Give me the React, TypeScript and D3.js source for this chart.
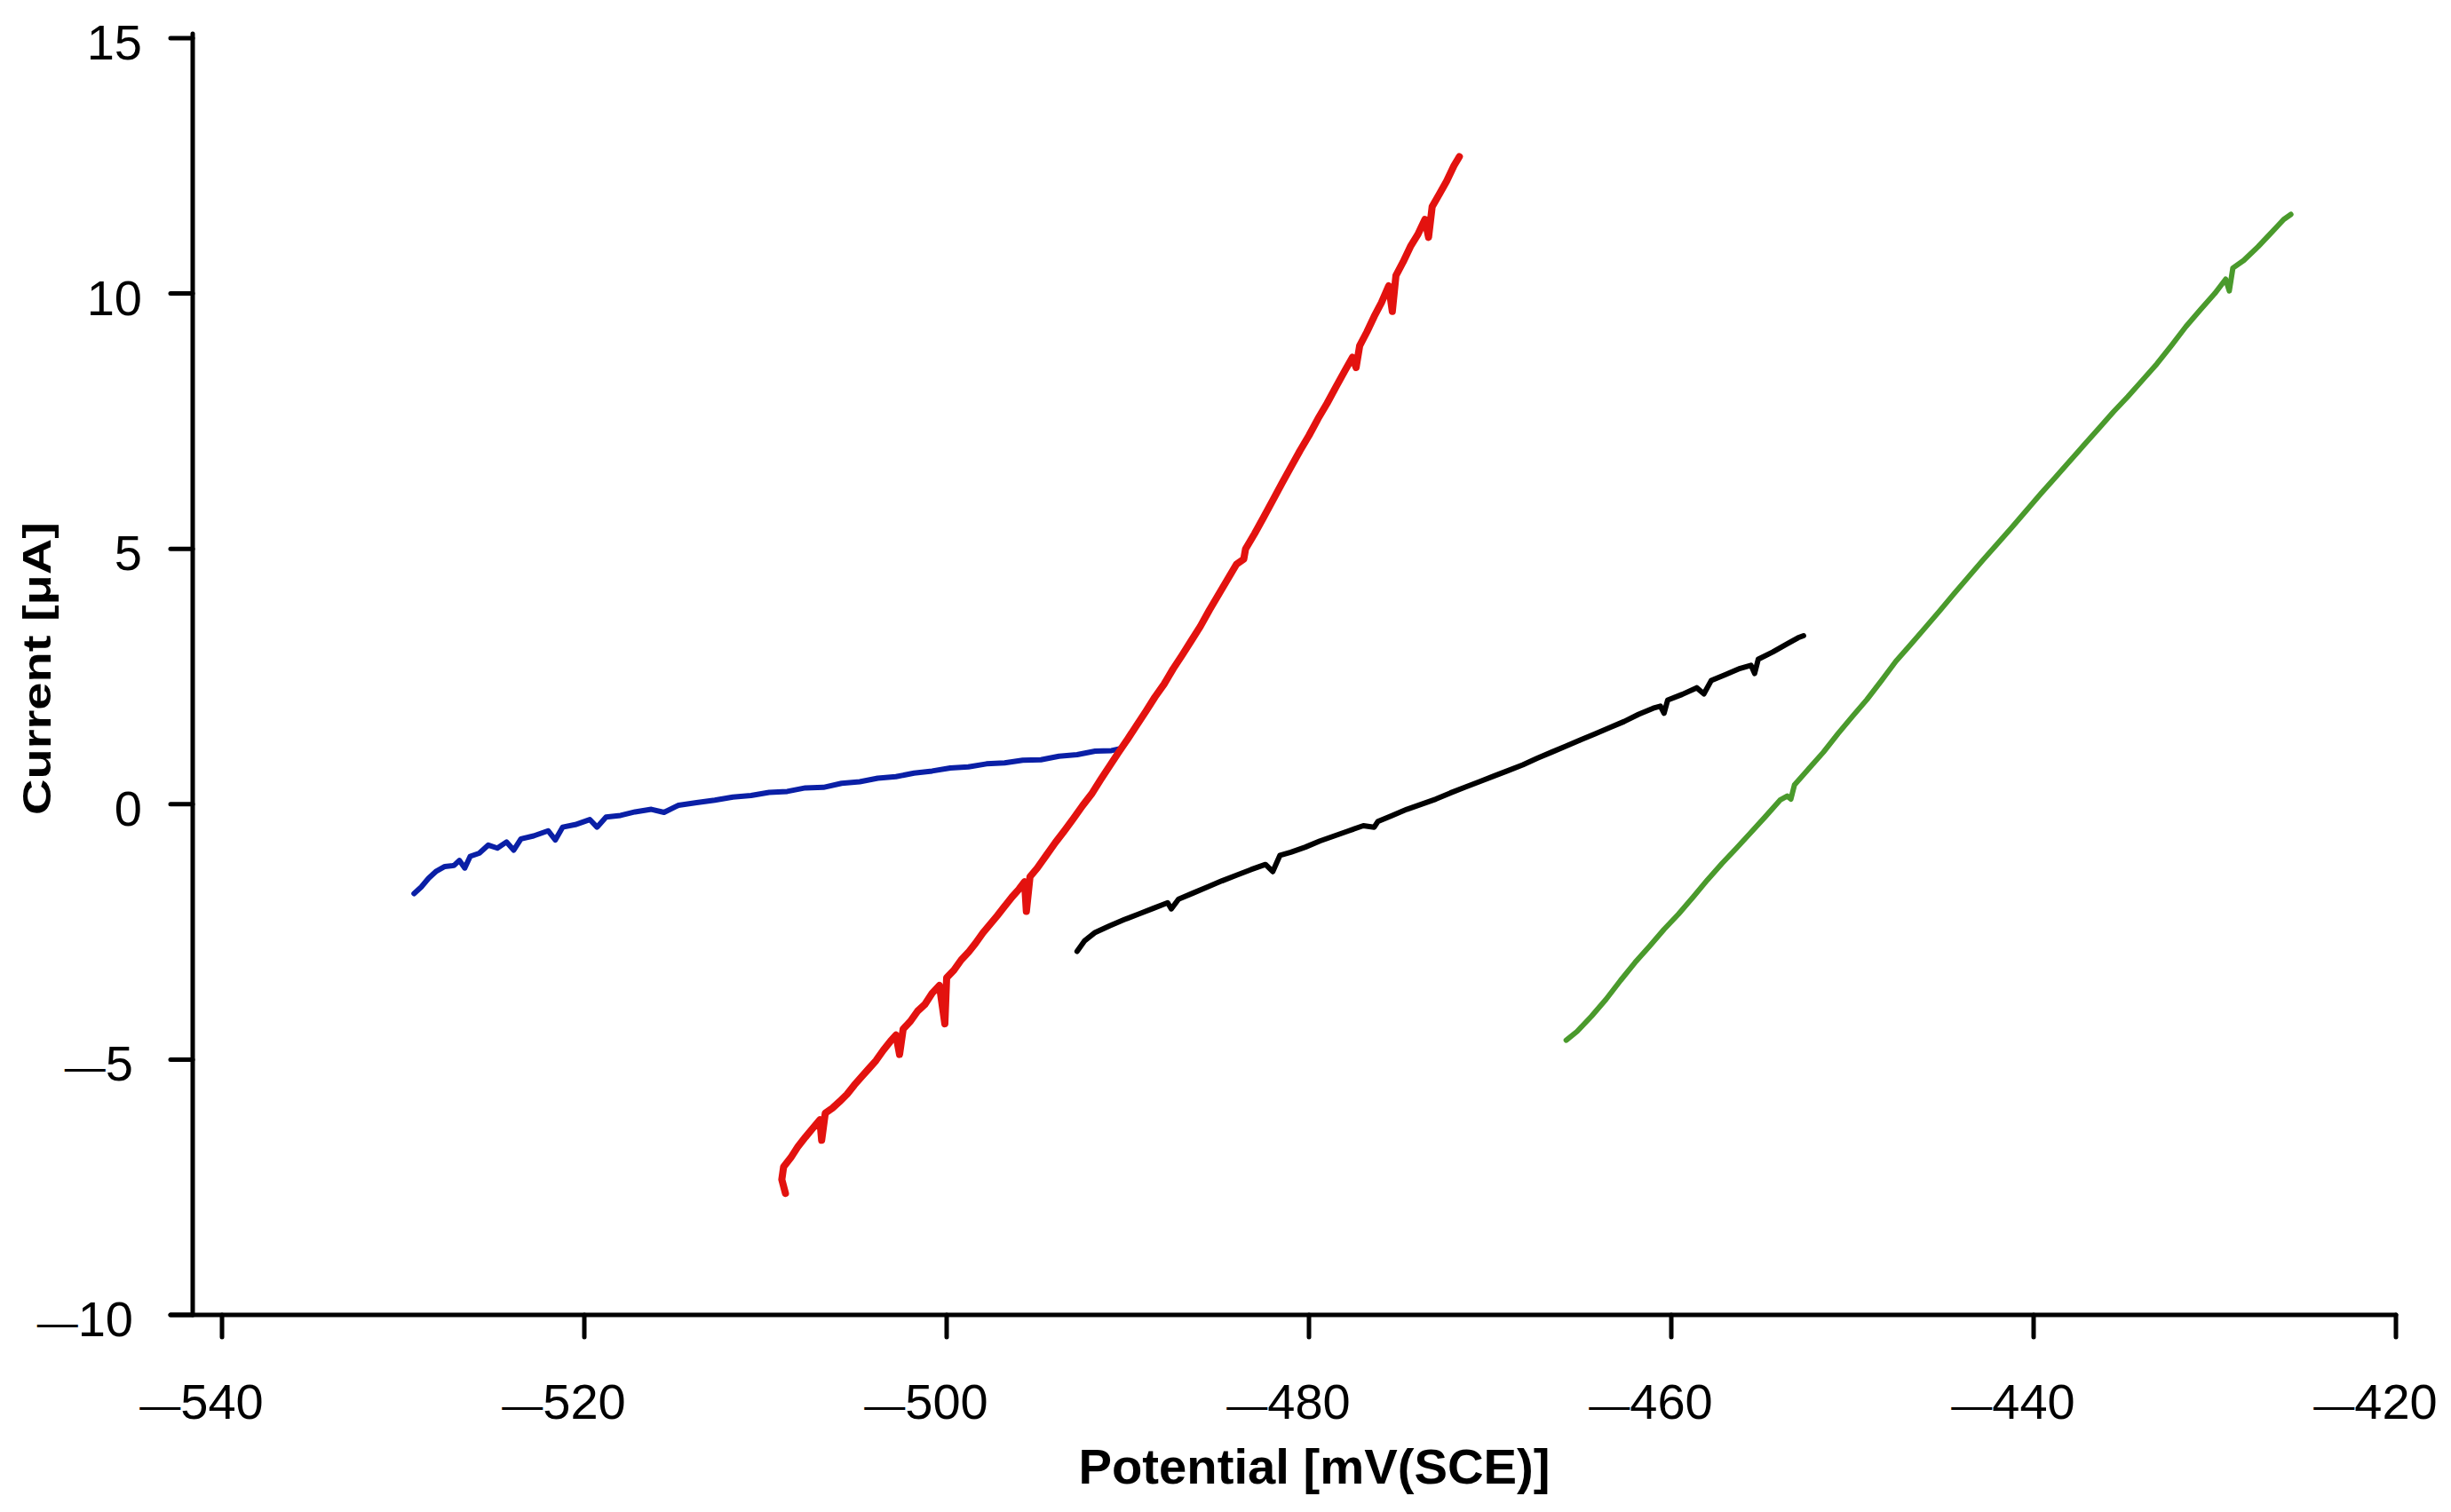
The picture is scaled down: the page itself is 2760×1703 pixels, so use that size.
import React, { useEffect } from "react";
import * as d3 from "d3";

// ---- data (Potential mV(SCE), Current µA) ----
const xTicks = [-540, -520, -500, -480, -460, -440, -420];
const yTicks = [15, 10, 5, 0, -5, -10];
const xTitle = "Potential [mV(SCE)]";
const yTitle = "Current [\u03bcA]";

const blueSeries: [number, number][] = [
  [-529.4, -1.75], [-529.0, -1.62], [-528.6, -1.45], [-528.2, -1.32], [-527.7, -1.22],
  [-527.2, -1.2], [-526.9, -1.1], [-526.6, -1.25], [-526.3, -1.02], [-525.8, -0.96],
  [-525.3, -0.8], [-524.8, -0.86], [-524.3, -0.74], [-523.9, -0.9], [-523.5, -0.68],
  [-522.8, -0.62], [-522.0, -0.52], [-521.6, -0.7], [-521.2, -0.45], [-520.5, -0.4],
  [-519.7, -0.3], [-519.3, -0.45], [-518.8, -0.25], [-518.0, -0.22], [-517.2, -0.15],
  [-516.3, -0.1], [-515.6, -0.16], [-514.8, -0.02], [-513.8, 0.03], [-512.8, 0.08],
  [-511.8, 0.14], [-510.8, 0.17], [-509.8, 0.23], [-508.8, 0.25], [-507.8, 0.32],
  [-506.8, 0.33], [-505.8, 0.41], [-504.8, 0.44], [-503.8, 0.51], [-502.8, 0.54],
  [-501.8, 0.61], [-500.8, 0.65], [-499.8, 0.71], [-498.8, 0.73], [-497.8, 0.79],
  [-496.8, 0.81], [-495.8, 0.86], [-494.8, 0.87], [-493.8, 0.94], [-492.8, 0.97],
  [-491.8, 1.04], [-490.9, 1.05], [-490.4, 1.09],
];

const redSeries: [number, number][] = [
  [-508.9, -7.62], [-509.1, -7.35], [-509.0, -7.1], [-508.6, -6.92], [-508.2, -6.7],
  [-507.8, -6.52], [-507.4, -6.35], [-507.0, -6.18], [-506.9, -6.58], [-506.7, -6.05],
  [-506.3, -5.95], [-505.9, -5.82], [-505.5, -5.68], [-505.1, -5.5], [-504.7, -5.34],
  [-504.3, -5.18], [-503.9, -5.02], [-503.5, -4.82], [-503.1, -4.64], [-502.8, -4.52],
  [-502.6, -4.9], [-502.4, -4.4], [-502.0, -4.25], [-501.6, -4.05], [-501.2, -3.92],
  [-500.8, -3.7], [-500.4, -3.55], [-500.1, -4.3], [-500.0, -3.4], [-499.6, -3.25],
  [-499.2, -3.05], [-498.8, -2.9], [-498.4, -2.72], [-498.0, -2.52], [-497.6, -2.35],
  [-497.2, -2.18], [-496.8, -2.0], [-496.4, -1.82], [-496.0, -1.66], [-495.7, -1.52],
  [-495.6, -2.1], [-495.4, -1.42], [-495.0, -1.25], [-494.5, -1.0], [-494.0, -0.75],
  [-493.5, -0.52], [-493.0, -0.28], [-492.5, -0.03], [-492.0, 0.2], [-491.5, 0.48],
  [-491.0, 0.75], [-490.5, 1.02], [-490.0, 1.28], [-489.5, 1.55], [-489.0, 1.82],
  [-488.5, 2.1], [-488.0, 2.35], [-487.5, 2.65], [-487.0, 2.92], [-486.5, 3.2],
  [-486.0, 3.48], [-485.5, 3.8], [-485.0, 4.1], [-484.5, 4.4], [-484.0, 4.7],
  [-483.6, 4.8], [-483.5, 5.0], [-483.0, 5.3], [-482.5, 5.62], [-482.0, 5.95],
  [-481.5, 6.28], [-481.0, 6.6], [-480.5, 6.92], [-480.0, 7.22], [-479.5, 7.55],
  [-479.0, 7.85], [-478.5, 8.18], [-478.0, 8.5], [-477.6, 8.75], [-477.4, 8.55],
  [-477.2, 8.98], [-476.8, 9.25], [-476.4, 9.55], [-476.0, 9.82], [-475.6, 10.15],
  [-475.4, 9.65], [-475.2, 10.35], [-474.8, 10.62], [-474.4, 10.92], [-474.0, 11.15],
  [-473.6, 11.45], [-473.4, 11.1], [-473.2, 11.7], [-472.8, 11.95], [-472.4, 12.2],
  [-472.0, 12.5], [-471.7, 12.68],
];

const blackSeries: [number, number][] = [
  [-492.8, -2.88], [-492.4, -2.68], [-491.8, -2.51], [-491.0, -2.38], [-490.2, -2.26],
  [-489.4, -2.15], [-488.6, -2.04], [-487.8, -1.93], [-487.6, -2.05], [-487.2, -1.86],
  [-486.4, -1.74], [-485.6, -1.62], [-484.8, -1.5], [-484.0, -1.39], [-483.2, -1.28],
  [-482.4, -1.18], [-482.0, -1.32], [-481.6, -1.0], [-481.0, -0.94], [-480.2, -0.84],
  [-479.4, -0.72], [-478.6, -0.62], [-477.8, -0.52], [-477.0, -0.42], [-476.4, -0.45],
  [-476.2, -0.34], [-475.4, -0.22], [-474.6, -0.1], [-473.8, 0.0], [-473.0, 0.1],
  [-472.2, 0.22], [-471.4, 0.33], [-470.6, 0.44], [-469.8, 0.55], [-469.0, 0.66],
  [-468.2, 0.77], [-467.4, 0.9], [-466.6, 1.02], [-465.8, 1.14], [-465.0, 1.26],
  [-464.2, 1.38], [-463.4, 1.5], [-462.6, 1.62], [-461.8, 1.76], [-461.0, 1.88],
  [-460.6, 1.92], [-460.4, 1.78], [-460.2, 2.04], [-459.4, 2.15], [-458.6, 2.28],
  [-458.2, 2.16], [-457.8, 2.42], [-457.0, 2.54], [-456.2, 2.66], [-455.6, 2.72],
  [-455.4, 2.56], [-455.2, 2.84], [-454.4, 2.98], [-453.6, 3.14], [-453.0, 3.26],
  [-452.7, 3.3],
];

const greenSeries: [number, number][] = [
  [-465.8, -4.62], [-465.2, -4.45], [-464.4, -4.15], [-463.6, -3.82], [-462.8, -3.45],
  [-462.0, -3.1], [-461.2, -2.78], [-460.4, -2.45], [-459.6, -2.15], [-458.8, -1.82],
  [-458.0, -1.48], [-457.2, -1.16], [-456.4, -0.86], [-455.6, -0.55], [-454.8, -0.24],
  [-454.0, 0.08], [-453.6, 0.16], [-453.4, 0.1], [-453.2, 0.38], [-452.4, 0.7],
  [-451.6, 1.02], [-450.8, 1.38], [-450.0, 1.72], [-449.2, 2.05], [-448.4, 2.42],
  [-447.6, 2.8], [-446.8, 3.12], [-446.0, 3.45], [-445.2, 3.78], [-444.4, 4.12],
  [-443.6, 4.45], [-442.8, 4.78], [-442.0, 5.1], [-441.2, 5.42], [-440.4, 5.75],
  [-439.6, 6.08], [-438.8, 6.4], [-438.0, 6.72], [-437.2, 7.04], [-436.4, 7.36],
  [-435.6, 7.68], [-434.8, 7.98], [-434.0, 8.3], [-433.2, 8.62], [-432.4, 8.98],
  [-431.6, 9.35], [-430.8, 9.68], [-430.0, 10.0], [-429.4, 10.28], [-429.2, 10.05],
  [-429.0, 10.5], [-428.4, 10.65], [-427.6, 10.92], [-426.8, 11.22], [-426.2, 11.45],
  [-425.8, 11.55],
];

const seriesList = [
  { name: "blue", data: blueSeries, color: "#0a1fa6", width: 6 },
  { name: "red", data: redSeries, color: "#e3120f", width: 8 },
  { name: "black", data: blackSeries, color: "#000000", width: 6 },
  { name: "green", data: greenSeries, color: "#4a9a2c", width: 6 },
];

// ---- layout ----
const W = 2760;
const H = 1703;
const AXIS_X = 217;
const AXIS_Y = 1481;
const TICK = 25;
const FONT = "'Liberation Sans', Arial, Helvetica, sans-serif";
const DASH_SIZE = 46;

export default function App() {
  useEffect(() => {
    document.body.style.margin = "0";
  }, []);

  const x = d3.scaleLinear().domain([-540, -420]).range([250, 2698]);
  const y = d3.scaleLinear().domain([-10, 15]).range([1481, 43]);
  const line = d3
    .line<[number, number]>()
    .x((d) => x(d[0]))
    .y((d) => y(d[1]));

  const digitW = 56 * 0.556;

  return (
    <svg
      width={W}
      height={H}
      viewBox={`0 0 ${W} ${H}`}
      style={{ position: "absolute", left: 0, top: 0, display: "block", background: "#fff" }}
    >
      <rect x={0} y={0} width={W} height={H} fill="#fff" />
      {/* curves */}
      {seriesList.map((s) => (
        <path
          key={s.name}
          d={line(s.data) || ""}
          fill="none"
          stroke={s.color}
          strokeWidth={s.width}
          strokeLinejoin="round"
          strokeLinecap="round"
        />
      ))}
      {/* axes */}
      <g stroke="#000" strokeWidth={5} strokeLinecap="round">
        <line x1={AXIS_X} y1={38} x2={AXIS_X} y2={AXIS_Y} />
        <line x1={AXIS_X - TICK} y1={AXIS_Y} x2={x(-420)} y2={AXIS_Y} />
        {yTicks.map((t) => (
          <line key={"yt" + t} x1={AXIS_X - TICK} y1={y(t)} x2={AXIS_X} y2={y(t)} />
        ))}
        {xTicks.map((t) => (
          <line key={"xt" + t} x1={x(t)} y1={AXIS_Y} x2={x(t)} y2={AXIS_Y + TICK} />
        ))}
      </g>
      {/* tick labels */}
      <g fontFamily={FONT} fontSize={56} fill="#000">
        {xTicks.map((t) => {
          const digits = String(Math.abs(t));
          const half = (digits.length * digitW) / 2;
          return (
            <text key={"xl" + t} x={x(t) - half - (t < 0 ? DASH_SIZE : 0)} y={1598}>
              {t < 0 && <tspan fontSize={DASH_SIZE}>{"\u2014"}</tspan>}
              <tspan>{digits}</tspan>
            </text>
          );
        })}
        {yTicks.map((t) => {
          const digits = String(Math.abs(t));
          const right = t < 0 ? 150 : 160;
          return (
            <text key={"yl" + t} x={right} y={y(t) + 24} textAnchor="end">
              {t < 0 && <tspan fontSize={DASH_SIZE}>{"\u2014"}</tspan>}
              <tspan>{digits}</tspan>
            </text>
          );
        })}
      </g>
      {/* axis titles */}
      <text
        x={1480}
        y={1671}
        textAnchor="middle"
        fontFamily={FONT}
        fontWeight="bold"
        fontSize={55}
        textLength={531}
        lengthAdjust="spacingAndGlyphs"
      >
        {xTitle}
      </text>
      <text
        transform="translate(57, 753) rotate(-90)"
        textAnchor="middle"
        fontFamily={FONT}
        fontWeight="bold"
        fontSize={45}
        textLength={330}
        lengthAdjust="spacingAndGlyphs"
      >
        {yTitle}
      </text>
    </svg>
  );
}
